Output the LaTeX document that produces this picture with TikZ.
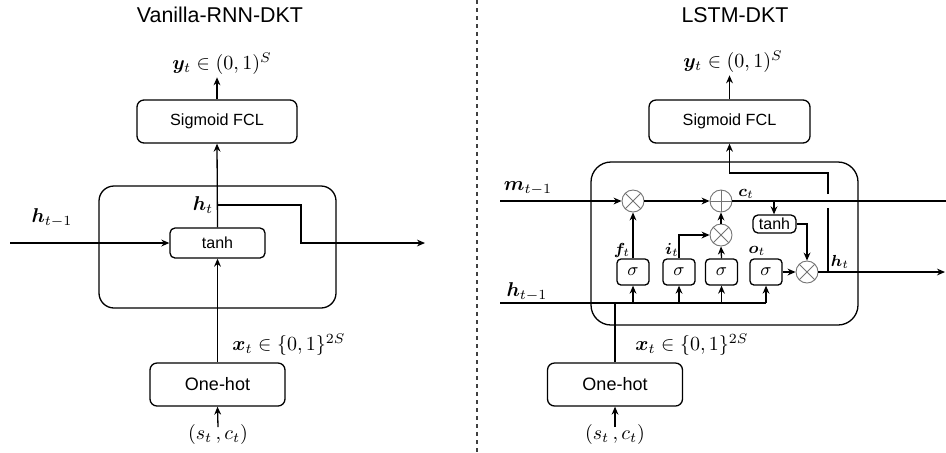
\documentclass[tikz,border=0pt]{standalone}
\usepackage{fontspec}
\usepackage{amsmath,bm}
\newfontfamily\arialf{Liberation Sans}
\usetikzlibrary{arrows.meta}

\tikzset{
  wire/.style={line width=0.65pt},
  ttl/.style={font=\arialf\fontsize{10.7}{13}\selectfont, inner sep=0pt},
  lab/.style={font=\fontsize{10}{12}\selectfont, inner sep=1pt},
  smlab/.style={font=\fontsize{8.3}{10}\selectfont, inner sep=0.5pt},
  fcl/.style={draw, line width=0.65pt, rounded corners=3.5pt, inner sep=0pt,
    minimum height=21.5pt, font=\arialf\fontsize{8.1}{10}\selectfont},
  hotbox/.style={draw, line width=0.65pt, rounded corners=3.5pt, inner sep=0pt,
    minimum width=67.5pt, minimum height=21.5pt, font=\arialf\fontsize{9}{11}\selectfont},
  actbox/.style={draw, line width=0.65pt, rounded corners=2.5pt, inner sep=0pt,
    font=\arialf\fontsize{8}{10}\selectfont},
  gatebox/.style={draw, line width=0.65pt, rounded corners=2pt, inner sep=0pt,
    minimum width=16pt, minimum height=13pt, font=\fontsize{9}{11}\selectfont},
  cellbox/.style={draw, line width=0.65pt, inner sep=0pt},
  opcirc/.style={circle, draw=black!55, line width=0.45pt, inner sep=0pt, minimum size=11pt},
  mult/.style={opcirc, path picture={
    \draw[black!55, line width=0.45pt]
      (path picture bounding box.north west) -- (path picture bounding box.south east)
      (path picture bounding box.north east) -- (path picture bounding box.south west);}},
  addop/.style={opcirc, path picture={
    \draw[black!55, line width=0.45pt]
      (path picture bounding box.north) -- (path picture bounding box.south)
      (path picture bounding box.west) -- (path picture bounding box.east);}},
  sep/.style={line width=0.65pt, black!75, dash pattern=on 2.2pt off 1.8pt},
}

\begin{document}
\begin{tikzpicture}[x=0.5pt, y=-0.5pt, >={Stealth[length=4pt,width=3.4pt]}]
\useasboundingbox (0,0) rectangle (946,452);

% ---------------- Vanilla RNN ----------------
\node[ttl] (tL) at (220,15) {Vanilla-RNN-DKT};
\node[cellbox, rounded corners=7.5pt, minimum width=118.5pt, minimum height=61pt] (cellL) at (217.5,247) {};
\node[fcl, minimum width=80pt] (sigL) at (217,121.5) {Sigmoid FCL};
\node[actbox, minimum width=47.5pt, minimum height=15pt] (tanhL) at (217.5,243) {tanh};
\node[hotbox] (oneL) at (217.5,384.5) {One-hot};

\node[lab] (yL) at (222,64) {$\bm{y}_t \in (0,1)^S$};
\node[lab] (stL) at (218,434) {$(s_t\,,c_t)$};
\node[lab, anchor=west] (xL) at (230,345) {$\bm{x}_t \in \{0,1\}^{2S}$};
\node[lab] (hpL) at (52,218) {$\bm{h}_{t-1}$};
\node[lab] (htL) at (203,205) {$\bm{h}_t$};

\coordinate (inL) at (10,243);
\coordinate (hbL) at (218,205);
\coordinate (outL) at (425,243);
\coordinate (sL) at (218,427);

\draw[wire,->] (tanhL.north) -- (sigL.south);
\draw[wire,->] (sigL.north) -- (sigL.north |- yL.south);
\draw[wire,->] (hbL) -- ++(83,0) |- (outL);
\draw[wire,->] (inL) -- (tanhL.west);
\draw[wire,->] (oneL.north) -- (tanhL.south);
\draw[wire,->] (sL) -- (oneL.south);

% separator
\coordinate (sepT) at (477,0);
\coordinate (sepB) at (477,452);
\draw[sep] (sepT) -- (sepB);

% ---------------- LSTM ----------------
\node[ttl] (tR) at (735,15) {LSTM-DKT};
\node[cellbox, rounded corners=10pt, minimum width=133.5pt, minimum height=81.5pt] (cellR) at (724.5,243.5) {};
\node[fcl, minimum width=80.5pt] (sigR) at (729.5,121.5) {Sigmoid FCL};
\node[hotbox] (oneR) at (615,384.5) {One-hot};

\node[mult] (fx) at (633,201) {};
\node[addop] (pl) at (721,201) {};
\node[mult] (ix) at (721,235) {};
\node[mult] (ox) at (807,272) {};

\node[gatebox] (sf) at (633,272) {$\sigma$};
\node[gatebox] (si) at (679,272) {$\sigma$};
\node[gatebox] (sg) at (721.5,272) {$\sigma$};
\node[gatebox] (so) at (766,272) {$\sigma$};
\node[actbox, minimum width=21.5pt, minimum height=9pt] (tanhR) at (774.5,224) {tanh};

\node[lab] (yR) at (733,62) {$\bm{y}_t \in (0,1)^S$};
\node[lab] (mR) at (528,188) {$\bm{m}_{t-1}$};
\node[lab] (hpR) at (527,292) {$\bm{h}_{t-1}$};
\node[smlab] (ctR) at (746,194) {$\bm{c}_t$};
\node[smlab] (htR) at (840,262) {$\bm{h}_t$};
\node[smlab] (ftR) at (622,250) {$\bm{f}_t$};
\node[smlab] (itR) at (672,250) {$\bm{i}_t$};
\node[smlab] (otR) at (757,251) {$\bm{o}_t$};
\node[lab, anchor=west] (xR) at (633,345) {$\bm{x}_t \in \{0,1\}^{2S}$};
\node[lab] (stR) at (615,434) {$(s_t\,,c_t)$};

\coordinate (mIn) at (500,201);
\coordinate (cOut) at (946,201);
\coordinate (cTap) at (774,201);
\coordinate (hOut) at (945,272);
\coordinate (hTap) at (828,272);
\coordinate (jumpLo) at (828,208);
\coordinate (jumpHi) at (828,194);
\coordinate (hTurn) at (828,173);
\coordinate (hIn) at (500,303);
\coordinate (hEnd) at (766,303);
\coordinate (xJoin) at (615,303);
\coordinate (sR) at (615,427);

% cell state path
\draw[wire,->] (mIn) -- (fx.west);
\draw[wire,->] (fx.east) -- (pl.west);
\draw[wire] (pl.east) -- (cOut);
\draw[wire,->] (cTap) -- (cTap |- tanhR.north);
\draw[wire,->] (tanhR.east) -| (ox.north);

% gates
\draw[wire,->] (sf.north) -- (fx.south);
\draw[wire,->] (si.north) |- (ix.west);
\draw[wire,->] (sg.north) -- (ix.south);
\draw[wire,->] (ix.north) -- (pl.south);
\draw[wire,->] (so.east) -- (ox.west);

% hidden output and its branch to the classifier
\draw[wire,->] (ox.east) -- (hOut);
\draw[wire] (hTap) -- (jumpLo);
\draw[wire,->] (jumpHi) -- (hTurn) -| (sigR.south);
\draw[wire,->] (sigR.north) -- (sigR.north |- yR.south);

% previous hidden state and input
\draw[wire] (hIn) -- (hEnd);
\foreach \g in {sf,si,sg,so}
  \draw[wire,->] (\g |- hIn) -- (\g.south);
\draw[wire] (oneR.north) -- (xJoin);
\draw[wire,->] (sR) -- (oneR.south);
\end{tikzpicture}
\end{document}
